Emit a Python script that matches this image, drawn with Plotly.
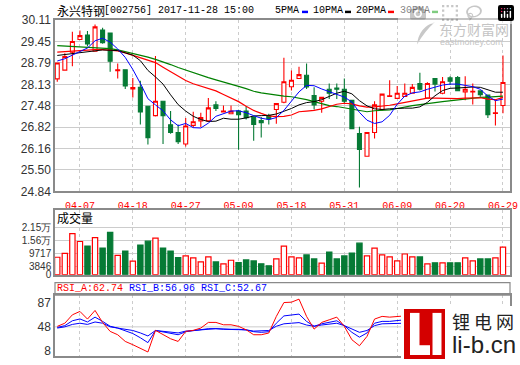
import plotly.graph_objects as go

# ---------------- data ----------------
tick_idx = [3, 10, 17, 24, 31, 38, 45, 52, 59]
tick_dates = ["04-07", "04-18", "04-27", "05-09", "05-18", "05-31", "06-09", "06-20", "06-29"]

open_ = [28.30, 28.57, 29.12, 29.51, 29.65, 29.15, 29.80, 29.71, 28.55, 28.58,
         27.99, 28.04, 27.46, 27.17, 27.61, 26.89, 26.65, 26.30, 26.87, 27.01,
         27.01, 27.50, 27.28, 27.23, 27.31, 27.31, 27.13, 27.02, 27.17, 27.36,
         27.58, 28.06, 28.31, 28.41, 27.79, 27.61, 27.98, 28.02, 27.98, 27.64,
         26.62, 25.92, 26.65, 27.36, 27.76, 27.70, 27.76, 27.86, 28.16, 27.71,
         28.31, 27.86, 28.33, 28.34, 27.90, 27.90, 27.93, 27.80, 27.24, 27.48]
high = [28.79, 29.09, 29.75, 29.79, 29.77, 29.97, 29.87, 29.71, 28.77, 28.58,
        28.33, 28.24, 27.46, 29.00, 27.61, 27.31, 26.90, 27.10, 27.29, 27.26,
        27.71, 27.61, 27.48, 27.48, 27.35, 27.46, 27.15, 27.13, 27.23, 27.56,
        28.95, 28.56, 28.67, 28.77, 28.04, 27.75, 28.16, 28.16, 28.31, 27.66,
        26.83, 26.65, 27.61, 27.85, 28.26, 28.08, 28.16, 28.14, 28.49, 28.20,
        28.31, 28.36, 28.38, 28.39, 28.38, 28.16, 27.95, 27.82, 27.64, 29.02]
low = [28.21, 28.55, 28.69, 29.51, 29.30, 29.15, 29.38, 28.52, 28.31, 27.99,
       27.73, 26.90, 26.28, 27.14, 26.30, 26.61, 26.30, 26.22, 26.80, 26.82,
       26.98, 27.31, 27.28, 27.23, 26.12, 27.05, 26.40, 26.50, 26.90, 26.92,
       27.55, 27.94, 28.31, 27.99, 27.36, 27.26, 27.68, 27.68, 27.55, 26.75,
       24.96, 25.92, 26.47, 27.33, 27.76, 27.70, 27.76, 27.86, 27.94, 27.71,
       27.91, 27.83, 28.11, 27.94, 27.64, 27.51, 27.75, 27.10, 26.87, 27.24]
close = [28.79, 28.99, 29.45, 29.63, 29.37, 29.90, 29.41, 28.84, 28.58, 28.08,
         28.03, 27.28, 26.49, 27.61, 27.17, 26.65, 26.37, 26.85, 26.98, 27.11,
         27.41, 27.39, 27.31, 27.31, 27.20, 27.11, 26.90, 26.95, 27.07, 27.54,
         28.21, 28.26, 28.43, 28.05, 27.50, 27.73, 27.86, 27.98, 27.61, 26.77,
         26.13, 26.65, 27.50, 27.83, 27.78, 27.86, 27.86, 28.04, 27.98, 28.16,
         28.14, 28.21, 28.23, 27.94, 27.98, 27.92, 27.81, 27.20, 27.26, 28.19]

ma5 = [28.85, 28.92, 29.03, 29.15, 29.25, 29.47, 29.55, 29.43, 29.22, 28.96,
       28.59, 28.16, 27.69, 27.50, 27.32, 27.04, 26.86, 26.93, 26.80, 26.79,
       26.94, 27.15, 27.24, 27.31, 27.32, 27.26, 27.17, 27.09, 27.05, 27.11,
       27.33, 27.61, 27.90, 28.10, 28.09, 27.99, 27.91, 27.82, 27.74, 27.59,
       27.27, 27.03, 26.93, 26.98, 27.18, 27.52, 27.77, 27.87, 27.90, 27.98,
       28.04, 28.11, 28.14, 28.14, 28.10, 28.06, 27.98, 27.77, 27.63, 27.68]
ma10 = [29.02, 29.05, 29.09, 29.12, 29.15, 29.18, 29.19, 29.18, 29.17, 29.10,
        29.03, 28.86, 28.56, 28.36, 28.14, 27.81, 27.51, 27.31, 27.15, 27.05,
        26.99, 27.00, 27.09, 27.06, 27.06, 27.10, 27.16, 27.17, 27.18, 27.22,
        27.30, 27.39, 27.50, 27.57, 27.60, 27.66, 27.76, 27.86, 27.92, 27.84,
        27.63, 27.47, 27.38, 27.36, 27.38, 27.40, 27.40, 27.40, 27.44, 27.58,
        27.78, 27.94, 28.01, 28.02, 28.04, 28.05, 28.04, 27.96, 27.89, 27.89]
ma20 = [29.12, 29.14, 29.16, 29.18, 29.19, 29.20, 29.20, 29.19, 29.16, 29.10,
        29.03, 28.96, 28.88, 28.80, 28.66, 28.52, 28.38, 28.25, 28.15, 28.08,
        28.01, 27.93, 27.82, 27.71, 27.60, 27.46, 27.33, 27.24, 27.16, 27.14,
        27.15, 27.19, 27.29, 27.31, 27.33, 27.38, 27.46, 27.52, 27.55, 27.53,
        27.47, 27.43, 27.44, 27.46, 27.49, 27.53, 27.58, 27.63, 27.68, 27.71,
        27.71, 27.70, 27.69, 27.69, 27.71, 27.72, 27.72, 27.68, 27.66, 27.73]
ma30 = [29.32, 29.31, 29.30, 29.29, 29.28, 29.27, 29.25, 29.23, 29.19, 29.14,
        29.09, 29.03, 28.97, 28.90, 28.83, 28.74, 28.65, 28.57, 28.48, 28.41,
        28.34, 28.27, 28.21, 28.14, 28.07, 28.00, 27.92, 27.87, 27.83, 27.79,
        27.77, 27.75, 27.71, 27.66, 27.60, 27.53, 27.48, 27.45, 27.41, 27.37,
        27.31, 27.29, 27.32, 27.33, 27.35, 27.39, 27.44, 27.48, 27.51, 27.55,
        27.57, 27.60, 27.63, 27.65, 27.68, 27.70, 27.73, 27.74, 27.75, 27.77]

volume = [7970, 9770, 18790, 15180, 13080, 16990, 12170, 19390, 8870, 10820,
          6160, 13530, 15330, 16680, 12170, 10820, 7820, 8570, 7670, 5860,
          8120, 5860, 4960, 6610, 5560, 6760, 6310, 4960, 4060, 7210,
          13080, 8120, 7670, 9020, 7210, 5260, 10370, 7210, 8570, 9920,
          14430, 8570, 12170, 9020, 8120, 6310, 9470, 8120, 8120, 4960,
          5410, 5410, 5410, 5410, 7670, 6310, 7210, 7210, 7670, 12630]

rsi_a = [48.8, 54, 67.8, 73.4, 60.8, 75, 55.3, 40.5, 35, 24,
         18.6, 13, 6.6, 42.2, 35, 28.4, 24, 40.5, 42.2, 46,
         55.3, 55.3, 51.4, 51.4, 48.8, 43.2, 35, 35, 37.8, 65.2,
         88, 88.6, 93.6, 65.2, 44.3, 55.3, 59.6, 64, 48.8, 26.8,
         16.9, 32.3, 60.8, 65.2, 64, 65.2, 66, 70, 66, 71,
         68, 72, 72, 58, 60, 57, 52, 35, 37, 62.74]
rsi_b = [47, 50, 58, 61, 56, 64, 57, 49, 46, 41,
         37, 30, 22, 42, 40, 37, 35, 40, 42, 43,
         45, 45, 44, 44, 44, 43, 40, 39, 40, 54,
         66, 67, 69, 57, 49, 53, 55, 58, 50, 39,
         31, 38, 54, 57, 57, 58, 59, 61, 59, 61,
         60, 62, 62, 56, 57, 56, 54, 47, 48, 56.96]
rsi_c = [46, 48, 52, 54, 52, 56, 54, 48, 46, 44,
         42, 38, 33, 42, 41, 39, 38, 41, 42, 43,
         45, 45, 44, 44, 44, 43, 41, 41, 42, 49,
         53, 54, 55, 51, 49, 51, 53, 54, 50, 44,
         39, 42, 50, 53, 53, 53, 54, 55, 54, 55,
         55, 56, 56, 53, 54, 53, 52, 48, 49, 52.67]

price_ticks = [24.84, 25.50, 26.16, 26.82, 27.48, 28.13, 28.79, 29.45, 30.11]
vol_ticks = [0, 3846, 9717, 15600, 21500]
vol_tick_text = ["0", "3846", "9717", "1.56万", "2.15万"]
rsi_ticks = [8, 48, 87]

# ---------------- style ----------------
RED = "#ff0000"
GREEN = "#067a35"
BLUE = "#0000ff"
GRID = "#cccccc"
BORDER = "#8a8a8a"
W, H = 520, 365
L, R, T, B = 55, 10, 20, 2
PW, PH = W - L - R, H - T - B


def px(x):
    return (x - L) / PW


def py(y):
    return (H - B - y) / PH


x = list(range(len(close)))
up = [c >= o for o, c in zip(open_, close)]

fig = go.Figure()
fig.add_trace(go.Candlestick(
    x=x, open=open_, high=high, low=low, close=close,
    increasing=dict(line=dict(color=RED, width=1.1), fillcolor="#ffffff"),
    decreasing=dict(line=dict(color=GREEN, width=1.1), fillcolor=GREEN),
    whiskerwidth=0, xaxis="x", yaxis="y", hoverinfo="skip"))
for vals, col, wd in [(ma30, "#008000", 1.2), (ma20, RED, 1.2), (ma10, "#000000", 1.0), (ma5, BLUE, 1.0)]:
    fig.add_trace(go.Scatter(x=x, y=vals, mode="lines", line=dict(color=col, width=wd),
                             xaxis="x", yaxis="y", hoverinfo="skip"))

fig.add_trace(go.Bar(
    x=x, y=volume, width=0.7,
    marker=dict(color=["#ffffff" if u else GREEN for u in up],
                line=dict(color=[RED if u else GREEN for u in up], width=1.2)),
    xaxis="x2", yaxis="y2", hoverinfo="skip"))

for vals, col in [(rsi_c, BLUE), (rsi_b, BLUE), (rsi_a, RED)]:
    fig.add_trace(go.Scatter(x=x, y=vals, mode="lines", line=dict(color=col, width=1),
                             xaxis="x3", yaxis="y3", hoverinfo="skip"))

xr = [-0.3, 59.93]
common_x = dict(range=xr, tickvals=tick_idx, showgrid=True, gridcolor=GRID, griddash="3px,3px",
                gridwidth=1, showline=True, linecolor=BORDER, linewidth=1.5, mirror=True,
                zeroline=False, fixedrange=True)
axfont = dict(family="Liberation Sans, Arial", size=12, color="#333333")

fig.update_layout(
    width=W, height=H, margin=dict(l=L, r=R, t=T, b=B),
    paper_bgcolor="white", plot_bgcolor="white", showlegend=False, boxgap=0.25,
    xaxis=dict(common_x, domain=[0, 1], anchor="y", ticktext=tick_dates,
               tickfont=dict(family="Liberation Mono", size=10, color=RED),
               ticks="outside", ticklen=4, tickcolor="rgba(0,0,0,0)",
               rangeslider=dict(visible=False)),
    yaxis=dict(domain=[py(195), 1], range=[24.84, 30.11], tickvals=price_ticks,
               ticktext=["%.2f" % v for v in price_ticks], tickfont=axfont,
               showgrid=True, gridcolor=GRID, gridwidth=1, showline=True, linecolor=BORDER,
               linewidth=1.5, mirror=True, zeroline=False, ticks="", fixedrange=True),
    xaxis2=dict(common_x, domain=[0, 1], anchor="y2", showticklabels=False),
    yaxis2=dict(domain=[py(280), py(214)], range=[0, 21500 * 66 / 48], tickvals=vol_ticks,
                ticktext=vol_tick_text,
                tickfont=dict(family="Liberation Sans Narrow, Liberation Sans", size=10, color="#333333"),
                showgrid=True, gridcolor=GRID, showline=True, linecolor=BORDER, linewidth=1.5,
                mirror=True, zeroline=False, ticks="", fixedrange=True),
    xaxis3=dict(common_x, domain=[0, 1], anchor="y3", showticklabels=False),
    yaxis3=dict(domain=[0, py(301)], range=[0, 100], tickvals=rsi_ticks,
                ticktext=[str(v) for v in rsi_ticks], tickfont=axfont,
                showgrid=False, showline=True, linecolor=BORDER, linewidth=1.5,
                mirror=True, zeroline=False, ticks="", fixedrange=True),
)

shapes = []
# RSI 48 line
shapes.append(dict(type="line", xref="x3 domain", yref="y3", x0=0, x1=1, y0=48, y1=48,
                   line=dict(color=GRID, width=1), layer="below"))
# RSI header box
shapes.append(dict(type="rect", xref="paper", yref="paper", x0=0, x1=1, y0=py(301), y1=py(288),
                   line=dict(color=BORDER, width=1.2), fillcolor="rgba(0,0,0,0)"))
# legend swatches
for x0, col in [(302, BLUE), (345, "#000000"), (388, RED), (432, "#009900")]:
    shapes.append(dict(type="rect", xref="paper", yref="paper", x0=px(x0), x1=px(x0 + 6),
                       y0=py(13), y1=py(10.5), line=dict(width=0), fillcolor=col))
# bottom-right logo
shapes.append(dict(type="rect", xref="paper", yref="paper", x0=px(401), x1=px(521),
                   y0=py(366), y1=py(312), line=dict(width=0), fillcolor="#ffffff"))
shapes.append(dict(type="rect", xref="paper", yref="paper", x0=px(404), x1=px(445),
                   y0=py(366), y1=py(315), line=dict(width=0), fillcolor="#d40000"))
for (a, b_, c, d) in [(410, 419.5, 319, 362), (410, 430, 352, 362), (432.5, 441.5, 319, 362)]:
    shapes.append(dict(type="rect", xref="paper", yref="paper", x0=px(a), x1=px(b_),
                       y0=py(d), y1=py(c), line=dict(width=0), fillcolor="#ffffff"))
# watermark swoosh
shapes.append(dict(type="path", xref="paper", yref="paper",
                   path="M %f,%f Q %f,%f %f,%f Q %f,%f %f,%f Z" % (
                       px(417), py(45), px(419), py(27), px(435), py(22),
                       px(425), py(31), px(417), py(45)),
                   line=dict(width=0), fillcolor="#c8c8c8"))
fig.update_layout(shapes=shapes)

ann = []


def text(xp, yp, s, size, color, family, xanchor="left", yanchor="middle"):
    ann.append(dict(x=px(xp), y=py(yp), xref="paper", yref="paper", text=s, showarrow=False,
                    xanchor=xanchor, yanchor=yanchor, font=dict(size=size, color=color, family=family),
                    borderpad=0))


MONO = "Liberation Mono, DejaVu Sans Mono"
CJK = "Noto Sans CJK SC"
text(56, 10.5, "永兴特钢", 12, "#000000", CJK)
text(103, 10.5, "[002756] 2017-11-28 15:00", 10, "#000000", MONO)
text(274, 10.5, "5PMA", 10, "#000000", MONO)
text(312, 10.5, "10PMA", 10, "#000000", MONO)
text(355, 10.5, "20PMA", 10, "#000000", MONO)
text(399, 10.5, "30PMA", 10, "#000000", MONO)
text(56, 222, "成交量", 12, "#000000", CJK)
text(56, 294.5, "RSI_A:62.74", 10, RED, MONO)
text(128, 294.5, "RSI_B:56.96", 10, BLUE, MONO)
text(200, 294.5, "RSI_C:52.67", 10, BLUE, MONO)
# watermark
text(474, 29.5, "东方财富网", 14, "#c4c4c4", CJK, "center")
text(471, 42, "eastmoney.com", 9, "#c4c4c4", "Liberation Sans", "center")
# logo texts
text(483, 327, "锂 电 网", 18, "#222222", CJK, "center")
text(483.5, 351.5, "li-b.cn", 24, "#222222", "Liberation Sans", "center")
fig.update_layout(annotations=ann)

fig.write_html("out.html", post_script="document.body.style.margin='0';document.body.style.padding='0';")
